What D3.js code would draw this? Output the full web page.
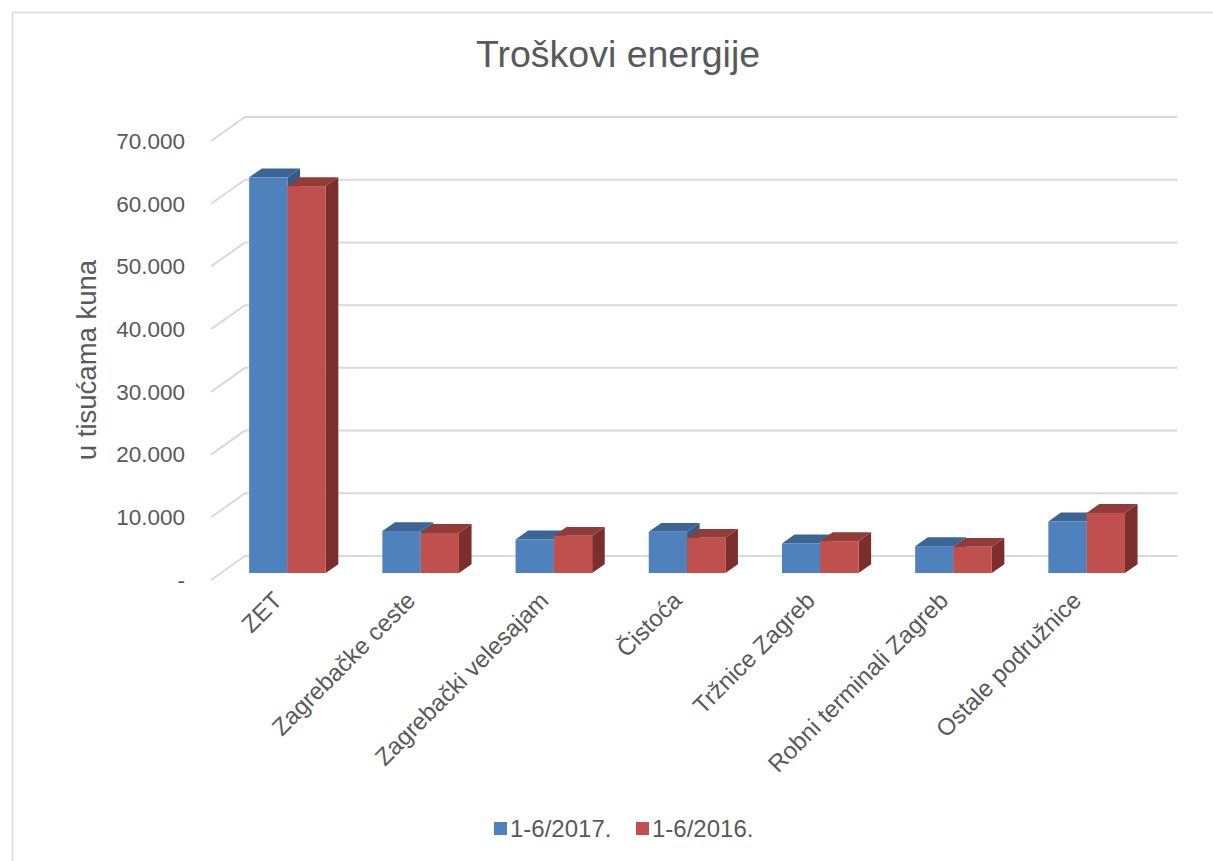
<!DOCTYPE html>
<html>
<head>
<meta charset="utf-8">
<script src="https://cdn.jsdelivr.net/npm/d3@7"></script>
<style>
  html, body { margin: 0; padding: 0; background: #fff; }
  svg { display: block; font-family: "Liberation Sans", Arial, sans-serif; }
</style>
</head>
<body>
<svg id="chart" width="1213" height="861"></svg>
<script>
const categories = ["ZET", "Zagrebačke ceste", "Zagrebački velesajam", "Čistoća", "Tržnice Zagreb", "Robni terminali Zagreb", "Ostale podružnice"];
const seriesNames = ["1-6/2017.", "1-6/2016."];
const values2017 = [63100, 6700, 5350, 6570, 4720, 4290, 8220];
const values2016 = [61700, 6400, 5930, 5610, 5090, 4180, 9590];
const tickValues = [0, 10000, 20000, 30000, 40000, 50000, 60000, 70000];
const tickLabels = ["-", "10.000", "20.000", "30.000", "40.000", "50.000", "60.000", "70.000"];
const title = "Troškovi energije";
const yTitle = "u tisućama kuna";

const colors = [
  { front: "#4f81bd", top: "#3c6594", side: "#345a85" },
  { front: "#c0504d", top: "#923c39", side: "#7b2e2c" }
];

const svg = d3.select("#chart");

// border
svg.append("path").attr("d", "M12.5,861 L12.5,12.5 L1213,12.5")
  .attr("fill", "none").attr("stroke", "#d9d9d9").attr("stroke-width", 1.5);

// front plane scales
const x = d3.scaleBand().domain(categories).range([211, 1143.4]);
const y = d3.scaleLinear().domain([0, 70000]).range([580, 141]);
const DX = 34, DY = -24; // full depth vector

// gridlines (floor diagonal + back wall)
const grid = svg.append("g");
tickValues.forEach(v => {
  const y0 = y(v);
  grid.append("path")
    .attr("d", `M${211},${y0} L${211 + DX},${y0 + DY} L${x.range()[1] + DX},${y0 + DY}`)
    .attr("fill", "none").attr("stroke", "#d9d9d9").attr("stroke-width", 2);
});

// tick labels
svg.append("g").selectAll("text").data(tickValues).join("text")
  .attr("x", 185).attr("y", d => y(d))
  .attr("dy", "0.35em")
  .attr("text-anchor", "end")
  .attr("font-size", 22.5).attr("fill", "#595959")
  .text((d, i) => tickLabels[i]);

// bars
const t0 = 0.29, t1 = 0.66;
const bdx = DX * (t1 - t0), bdy = DY * (t1 - t0);
const ox = DX * t0, oy = DY * t0;
const inner = d3.scaleBand().domain([0, 1]).range([0, 76.6]);
const pad = (x.bandwidth() - 76.6) / 2;

const bars = svg.append("g");
const seriesVals = [values2017, values2016];
categories.forEach((c, i) => {
  [0, 1].forEach(s => {
    const v = seriesVals[s][i];
    const xl = x(c) + pad + inner(s) + ox;
    const xr = xl + inner.bandwidth();
    const yb = y(0) + oy;
    const yt = y(v) + oy;
    const g = bars.append("g");
    g.append("path").attr("d", `M${xr},${yt} L${xr + bdx},${yt + bdy} L${xr + bdx},${yb + bdy} L${xr},${yb} Z`)
      .attr("fill", colors[s].side);
    g.append("path").attr("d", `M${xl},${yt} L${xl + bdx},${yt + bdy} L${xr + bdx},${yt + bdy} L${xr},${yt} Z`)
      .attr("fill", colors[s].top);
    g.append("rect").attr("x", xl).attr("y", yt).attr("width", xr - xl).attr("height", yb - yt)
      .attr("fill", colors[s].front);
  });
});

// category labels
svg.append("g").selectAll("text").data(categories).join("text")
  .attr("transform", d => `translate(${x(d) + x.bandwidth() / 2 + 6},${602}) rotate(-45)`)
  .attr("text-anchor", "end")
  .attr("font-size", 24).attr("fill", "#595959")
  .text(d => d);

// title
svg.append("text").attr("x", 618).attr("y", 67).attr("text-anchor", "middle")
  .attr("font-size", 37.5).attr("fill", "#595959").text(title);

// y title
svg.append("text").attr("transform", "translate(96,360) rotate(-90)")
  .attr("text-anchor", "middle").attr("font-size", 27.5).attr("fill", "#595959").text(yTitle);

// legend
const legend = svg.append("g");
const lx = [494, 636];
seriesNames.forEach((n, s) => {
  legend.append("rect").attr("x", lx[s]).attr("y", 822).attr("width", 13).attr("height", 13).attr("fill", colors[s].front);
  legend.append("text").attr("x", lx[s] + 16).attr("y", 837).attr("font-size", 24).attr("fill", "#595959").text(n);
});
</script>
</body>
</html>
